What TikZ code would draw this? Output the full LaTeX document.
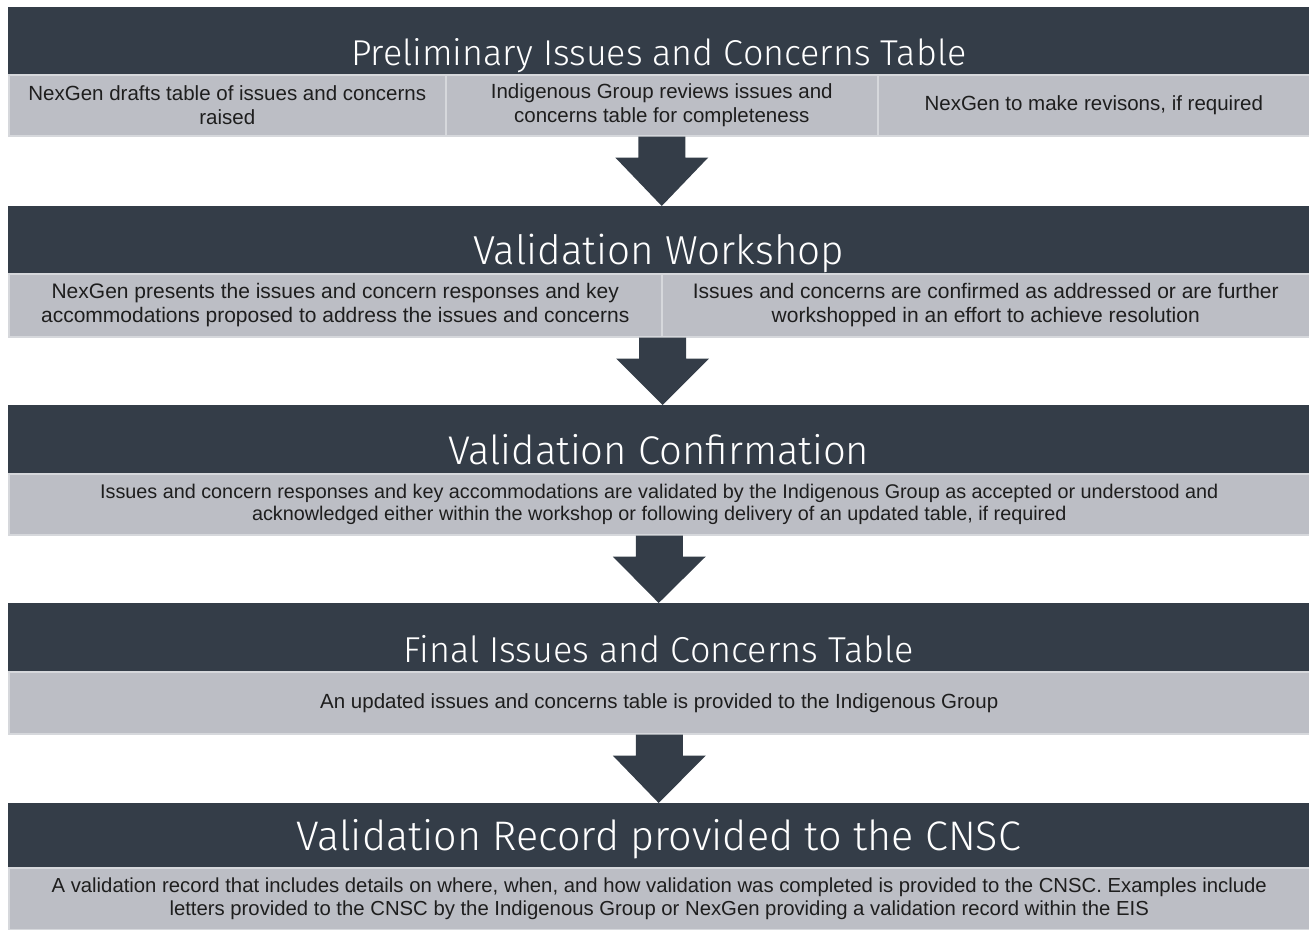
\documentclass[tikz,border=0pt]{standalone}
\usepackage{fontspec}
\setmainfont{Liberation Sans}
\newfontfamily\headfont{Fira Sans Light}
\usetikzlibrary{calc}

\definecolor{slate}{RGB}{52,61,72}
\definecolor{cloud}{RGB}{188,190,197}
\definecolor{seam}{RGB}{214,216,220}
\definecolor{ink}{RGB}{30,30,30}

% block arrow from the bottom of one band to the top of the next
\newcommand{\bandarrow}[2]{%
  \fill[slate] ($(#1)+(-23.5,0)$) -- ++(0,21) -- ++(-23,0) -- (#2)
    -- ($(#1)+(46.5,21)$) -- ++(-23,0) -- ++(0,-21) -- cycle;}

\begin{document}
\begin{tikzpicture}
    [x=1pt, y=-1pt,
     band/.style={fill=slate, text=white, inner sep=0pt, anchor=north west,
       minimum width=1301pt, text depth=9pt},
     cell/.style={fill=cloud, draw=seam, line width=1.5pt, text=ink, inner sep=0pt,
       anchor=north west, align=center, font=\fontsize{20.5}{23.5}\selectfont}]
    \useasboundingbox (0,0) rectangle (1309,929);
    % headers
    \node[band, text height=58pt, font=\headfont\fontsize{35.9}{40}\selectfont] (h1) at (8,7)
      {Preliminary Issues and Concerns Table};
    \node[band, text height=58pt, font=\headfont\fontsize{40.4}{44}\selectfont] (h2) at (8,206)
      {Validation Workshop};
    \node[band, text height=59pt, font=\headfont\fontsize{40}{44}\selectfont] (h3) at (8,405)
      {Validation Confirmation};
    \node[band, text height=59pt, font=\headfont\fontsize{36}{40}\selectfont] (h4) at (8,603)
      {Final Issues and Concerns Table};
    \node[band, text height=47pt, text depth=17pt, font=\headfont\fontsize{41.3}{44}\selectfont] (h5) at (8,803)
      {Validation Record provided to the CNSC};
    % grey rows
    \node[cell, minimum width=437pt, minimum height=61pt] (c1a) at (8,74)
      {NexGen drafts table of issues and concerns\\raised};
    \node[cell, minimum width=432pt, minimum height=61pt] (c1b) at (445,74)
      {Indigenous Group reviews issues and\\concerns table for completeness};
    \node[cell, minimum width=432pt, minimum height=61pt] (c1c) at (877,74)
      {NexGen to make revisons, if required};
    \node[cell, minimum width=653pt, minimum height=63pt, font=\fontsize{21}{23.5}\selectfont] (c2a) at (8,273)
      {NexGen presents the issues and concern responses and key\\accommodations proposed to address the issues and concerns};
    \node[cell, minimum width=648pt, minimum height=63pt, font=\fontsize{21}{23.5}\selectfont] (c2b) at (661,273)
      {Issues and concerns are confirmed as addressed or are further\\workshopped in an effort to achieve resolution};
    \node[cell, minimum width=1301pt, minimum height=61pt, font=\fontsize{19.8}{22.5}\selectfont] (c3) at (8,473)
      {Issues and concern responses and key accommodations are validated by the Indigenous Group as accepted or understood and\\acknowledged either within the workshop or following delivery of an updated table, if required};
    \node[cell, minimum width=1301pt, minimum height=62pt] (c4) at (8,671)
      {An updated issues and concerns table is provided to the Indigenous Group};
    \node[cell, minimum width=1301pt, minimum height=62pt, font=\fontsize{20.3}{23}\selectfont] (c5) at (8,867)
      {A validation record that includes details on where, when, and how validation was completed is provided to the CNSC. Examples include\\letters provided to the CNSC by the Indigenous Group or NexGen providing a validation record within the EIS};
    % arrows
    \bandarrow{c1b.south}{h2.north -| c1b.south}
    \bandarrow{c2a.south east}{h3.north -| c2a.south east}
    \bandarrow{c3.south}{h4.north}
    \bandarrow{c4.south}{h5.north}
\end{tikzpicture}
\end{document}
